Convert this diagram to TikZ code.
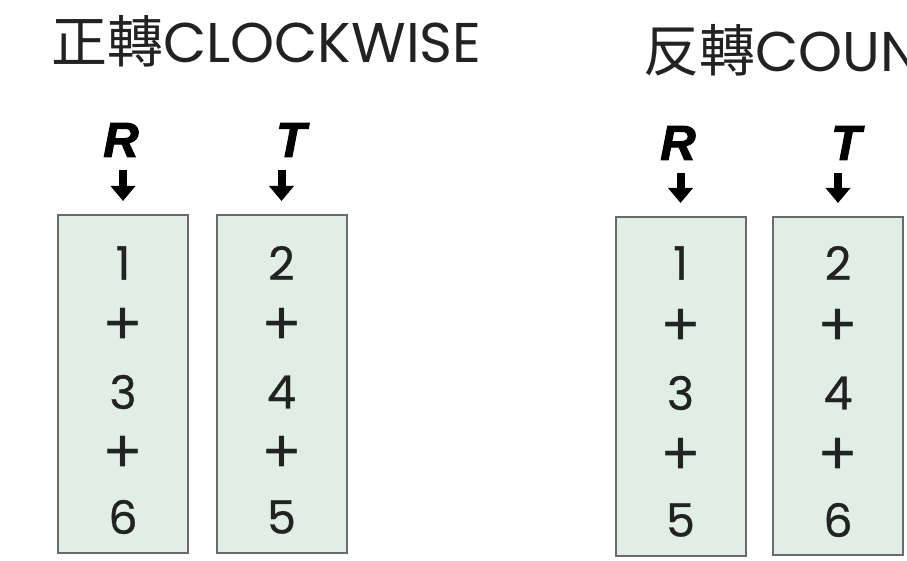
\documentclass[tikz,border=0pt]{standalone}
\usepackage{fontspec}
\setmainfont{Poppins}
\newfontfamily\digfont{Poppins}[FakeBold=0.6]
\newfontfamily\cjkfont{Noto Sans CJK TC}
\newfontfamily\labfont{Liberation Sans}[BoldItalicFeatures={FakeBold=2}]
\usetikzlibrary{arrows.meta}
\definecolor{boxfill}{HTML}{E0EEE6}
\definecolor{boxline}{HTML}{6A6A6A}
\definecolor{ink}{HTML}{222222}
\tikzset{
  colbox/.style={draw=boxline, line width=2pt, fill=boxfill, minimum width=130pt, minimum height=338pt, inner sep=0pt},
  digit/.style={font=\digfont\fontsize{46}{46}\selectfont, text=ink, inner sep=0pt},
  plus/.style={font=\fontsize{60}{60}\selectfont, text=ink, inner sep=0pt},
  letter/.style={font=\labfont\bfseries\itshape\fontsize{49}{49}\selectfont, inner sep=0pt, text depth=0pt, anchor=south},
  fatarrow/.style={line width=8pt, -{Triangle[length=15pt,width=24pt]}, shorten <=13pt, shorten >=13pt},
  title/.style={font=\fontsize{56}{56}\selectfont, text=ink, inner sep=0pt, anchor=base west},
}
\begin{document}
\begin{tikzpicture}[x=1pt,y=-1pt]
\useasboundingbox (0,0) rectangle (907,561);
\clip (0,0) rectangle (907,561);
% titles
\node[title] (t1) at (51,63) {{\cjkfont\fontsize{56}{56}\selectfont 正轉}CLOCKWISE};
\node[title] (t2) at (643,72) {{\cjkfont\fontsize{56}{56}\selectfont 反轉}COUN};
% boxes
\node[colbox] (b1) at (123,384) {};
\node[colbox] (b2) at (281.5,384) {};
\node[colbox, minimum height=339pt] (b3) at (680.5,386.5) {};
\node[colbox] (b4) at (838,386) {};
% labels
\node[letter] (r1) at (121,157) {R};
\node[letter] (s1) at (291,157) {T};
\node[letter] (r2) at (678,160) {R};
\node[letter] (s2) at (846,160) {T};
\draw[fatarrow] (r1.south -| b1.north) -- (b1.north);
\draw[fatarrow] (s1.south -| b2.north) -- (b2.north);
\draw[fatarrow] (r2.south -| b3.north) -- (b3.north);
\draw[fatarrow] (s2.south -| b4.north) -- (b4.north);
% digits left
\node[digit] (a1) at (123,263) {1};
\node[plus] (a2) at (123,327) {+};
\node[digit] (a3) at (123,392) {3};
\node[plus] (a4) at (123,455) {+};
\node[digit] (a5) at (123,517) {6};
\node[digit] (c1) at (281.5,263) {2};
\node[plus] (c2) at (281.5,327) {+};
\node[digit] (c3) at (281.5,392) {4};
\node[plus] (c4) at (281.5,455) {+};
\node[digit] (c5) at (281.5,517) {5};
% digits right
\node[digit] (d1) at (680.5,263) {1};
\node[plus] (d2) at (680.5,328) {+};
\node[digit] (d3) at (680.5,393) {3};
\node[plus] (d4) at (680.5,457) {+};
\node[digit] (d5) at (680.5,520) {5};
\node[digit] (e1) at (838,263) {2};
\node[plus] (e2) at (838,328) {+};
\node[digit] (e3) at (838,393) {4};
\node[plus] (e4) at (838,457) {+};
\node[digit] (e5) at (838,520) {6};
\end{tikzpicture}
\end{document}
